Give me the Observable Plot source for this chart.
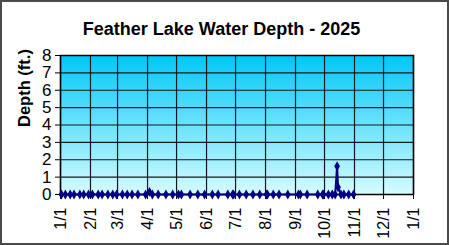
<!DOCTYPE html>
<html>
<head>
<meta charset="utf-8">
<script src="https://cdn.jsdelivr.net/npm/d3@7"></script>
<script src="https://cdn.jsdelivr.net/npm/@observablehq/plot@0.6"></script>
<style>
  html, body { margin: 0; padding: 0; background: #fff; }
  #wrap { position: relative; width: 449px; height: 245px; overflow: hidden; background: #fff; }
  #wrap svg.plot { position: absolute; left: 0; top: 0; }
  #border { position: absolute; left: 0; top: 0; width: 449px; height: 245px; box-sizing: border-box; border: 2px solid #4a4a4a; pointer-events: none; }
  #title { position: absolute; left: 0; width: 443px; top: 20px; text-align: center; font: bold 18px Arial, "Liberation Sans", sans-serif; line-height: 18px; color: #000; white-space: nowrap; }
</style>
</head>
<body>
<svg width="0" height="0" style="position:absolute">
  <defs>
    <linearGradient id="bg" x1="0" y1="0" x2="0" y2="1">
      <stop offset="0" stop-color="#00c8f8"/>
      <stop offset="1" stop-color="#d6fcff"/>
    </linearGradient>
  </defs>
</svg>
<div id="wrap">
  <div id="title">Feather Lake Water Depth - 2025</div>
  <div id="border"></div>
</div>
<script>
const dates = ["2025-01-02","2025-01-06","2025-01-11","2025-01-15","2025-01-21","2025-01-25","2025-01-30","2025-02-03","2025-02-09","2025-02-13",
  "2025-02-19","2025-02-24","2025-02-28","2025-03-06","2025-03-11","2025-03-16","2025-03-22","2025-03-30","2025-04-03","2025-04-06",
  "2025-04-12","2025-04-20","2025-04-27","2025-05-03","2025-05-06","2025-05-15","2025-05-23","2025-05-30","2025-06-07","2025-06-13",
  "2025-06-23","2025-06-28","2025-06-29","2025-07-05","2025-07-12","2025-07-19","2025-07-26","2025-08-02","2025-08-03","2025-08-09",
  "2025-08-15","2025-08-24","2025-09-04","2025-09-06","2025-09-13","2025-09-24","2025-09-29","2025-09-30","2025-10-05","2025-10-09",
  "2025-10-12","2025-10-14","2025-10-15","2025-10-18","2025-10-21","2025-10-26","2025-10-31"];
const depths = [0,0,0,0,0,0,0,0,0,0,
  0,0,0,0,0,0,0,0,0.15,0,
  0,0,0,0,0,0,0,0,0,0,
  0,0,0,0,0,0,0,0,0,0,
  0,0,0,0,0,0,0,0,0,0,
  0,1.63,0.42,0,0,0,0];
const monthTickLabels = ["1/1","2/1","3/1","4/1","5/1","6/1","7/1","8/1","9/1","10/1","11/1","12/1","1/1"];
const monthTicks = ["2025-01-01","2025-02-01","2025-03-01","2025-04-01","2025-05-01","2025-06-01","2025-07-01","2025-08-01","2025-09-01","2025-10-01","2025-11-01","2025-12-01","2026-01-01"];
const yTicks = [0,1,2,3,4,5,6,7,8];
const yTitle = "Depth (ft.)";

const data = dates.map((d, i) => ({date: new Date(d + "T00:00:00Z"), depth: depths[i]}));
const tickDates = monthTicks.map(d => new Date(d + "T00:00:00Z"));
const labelFor = new Map(tickDates.map((d, i) => [+d, monthTickLabels[i]]));

const chart = Plot.plot({
  width: 449,
  height: 245,
  marginLeft: 60,
  marginRight: 36,
  marginTop: 55,
  marginBottom: 51,
  style: {fontFamily: "Arial, 'Liberation Sans', sans-serif", fontSize: "16px", color: "#000", background: "transparent", overflow: "visible"},
  x: {type: "utc", domain: [tickDates[0], tickDates[tickDates.length - 1]]},
  y: {domain: [0, 8]},
  marks: [
    Plot.frame({fill: "url(#bg)", stroke: "none"}),
    Plot.gridX(tickDates, {stroke: "#101820", strokeOpacity: 1, strokeWidth: 1.2}),
    Plot.gridY(yTicks, {stroke: "#101820", strokeOpacity: 1, strokeWidth: 1.2}),
    Plot.frame({stroke: "#000", strokeWidth: 1.5}),
    Plot.axisY(yTicks, {tickSize: 5, tickPadding: 4, label: null, fontSize: 17}),
    Plot.axisX(tickDates, {tickSize: 5, tickPadding: 8, tickRotate: -90, label: null, fontSize: 16, tickFormat: d => labelFor.get(+d)}),
    Plot.line(data, {x: "date", y: "depth", stroke: "#000080", strokeWidth: 2}),
    Plot.dot(data, {x: "date", y: "depth", symbol: "diamond", r: 3, fill: "#000080", stroke: "none"}),
    Plot.text([yTitle], {frameAnchor: "left", rotate: -90, dx: -36, dy: 2, fontWeight: "bold", fontSize: 16.5, fill: "#000"})
  ]
});
document.getElementById("wrap").insertBefore(chart, document.getElementById("title"));
</script>
</body>
</html>
